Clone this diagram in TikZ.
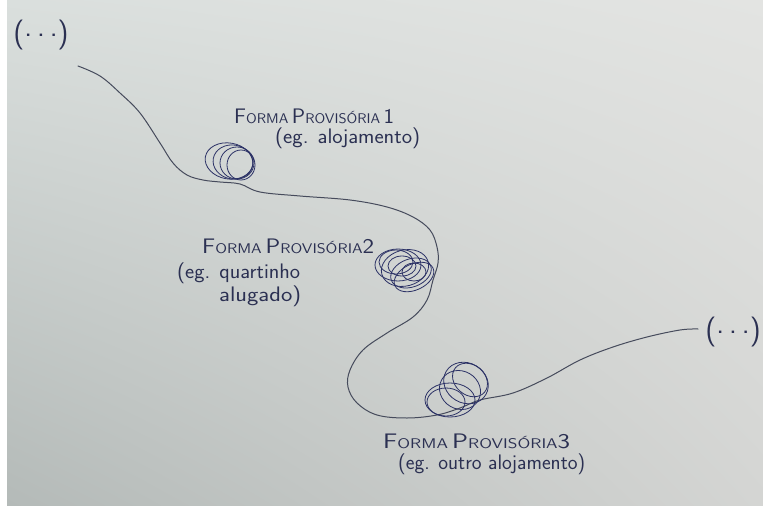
\documentclass[tikz,border=0pt]{standalone}
\usepackage{fontspec}
\usepackage{graphicx}
\usetikzlibrary{shadings}
\definecolor{inkc}{HTML}{2B3052}
\definecolor{loopink}{HTML}{2C3266}
\definecolor{linec}{HTML}{464B5C}
\definecolor{paperUL}{HTML}{DADFDD}
\definecolor{paperUR}{HTML}{E3E4E2}
\definecolor{paperLL}{HTML}{B4BAB8}
\definecolor{paperLR}{HTML}{D4D5D3}
\newcommand\fitw[2]{\resizebox{#1}{\height}{#2}}
\newcommand\bigc[1]{{\fontsize{21}{22}\selectfont #1}}
\newcommand\smc[1]{{\fontsize{14}{15}\selectfont #1}}
\newcommand\rdot{\raisebox{0.2em}{.}}
\begin{document}
\begin{tikzpicture}[x=1pt,y=-1pt,
  curve/.style={draw=linec, line width=1pt, line cap=round, line join=round},
  loopc/.style={draw=loopink, line width=0.8pt},
  txt/.style={text=inkc, font=\sffamily, inner sep=0pt, anchor=base west},
  lower/.style={txt, font=\sffamily\fontsize{21}{23}\selectfont},
  dots/.style={text=inkc, font=\sffamily\fontsize{30}{32}\selectfont, inner sep=0pt}]
\useasboundingbox (0,0) rectangle (763,511);
\fill[white] (0,0) rectangle (763,511);
\shade[upper left=paperUL, upper right=paperUR, lower left=paperLL, lower right=paperLR] (7,0) rectangle (763,505);

% the path
\draw[curve] plot[smooth, tension=0.6] coordinates {
  (78,66) (100,76) (120,93) (140,113) (160,143) (173,163) (187,175) (203,180)
  (220,182) (240,184) (260,192) (300,196) (350,200) (387,207) (413,217)
  (430,230) (437,247) (438,263) (433,280) (427,300) (413,317) (387,333)
  (363,350) (350,370) (348,387) (357,403) (377,415) (407,418) (437,415)
  (460,408) (480,400) (513,393) (547,378) (580,360) (613,347) (647,337)
  (680,330) (698,329)};

% loop 1
\draw[loopc, rotate around={-10:(229,161)}] (229,161) ellipse [x radius=24pt, y radius=18pt];
\draw[loopc, rotate around={-10:(233,162)}] (233,162) ellipse [x radius=20pt, y radius=17pt];
\draw[loopc] (237,163) ellipse [x radius=17pt, y radius=16pt];
\draw[loopc] (241,165) ellipse [x radius=14pt, y radius=15pt];

% loop 2
\draw[loopc] (398,265) ellipse [x radius=23pt, y radius=16pt];
\draw[loopc, rotate around={15:(405,268)}] (405,268) ellipse [x radius=24pt, y radius=18pt];
\draw[loopc, rotate around={20:(411,273)}] (411,273) ellipse [x radius=21pt, y radius=14pt];
\draw[loopc, rotate around={25:(414,277)}] (414,277) ellipse [x radius=21pt, y radius=13pt];
\draw[loopc] (402,266) ellipse [x radius=14pt, y radius=10pt];
\draw[loopc] (414,272) ellipse [x radius=12pt, y radius=9pt];
\draw[loopc] (396,262) ellipse [x radius=17pt, y radius=12pt];

% loop 3
\draw[loopc, rotate around={-30:(466,383)}] (466,383) ellipse [x radius=23pt, y radius=20pt];
\draw[loopc, rotate around={-30:(460,390)}] (460,390) ellipse [x radius=21pt, y radius=19pt];
\draw[loopc] (450,400) ellipse [x radius=25pt, y radius=17pt];
\draw[loopc] (446,402) ellipse [x radius=19pt, y radius=14pt];
\draw[loopc, rotate around={-40:(470,380)}] (470,380) ellipse [x radius=19pt, y radius=15pt];

% ellipsis marks
\node[dots] (startdots) at (41,35) {(\rdot\,\rdot\,\rdot)};
\node[dots] (enddots) at (733,332) {(\rdot\,\rdot\,\rdot)};

% labels
\node[txt] (f1) at (234,123) {\fitw{160pt}{\bigc{F}\smc{ORMA} \bigc{P}\smc{ROVISÓRIA} \bigc{1}}};
\node[lower] (e1) at (275,143) {\fitw{145pt}{(eg. alojamento)}};

\node[txt] (f2) at (202,253) {\fitw{172pt}{\bigc{F}\smc{ORMA} \bigc{P}\smc{ROVISÓRIA}\bigc{2}}};
\node[lower] (e2) at (177,278) {\fitw{123pt}{(eg. quartinho}};
\node[lower] (e2b) at (219,301) {\fitw{82pt}{alugado)}};

\node[txt] (f3) at (383,448) {\fitw{187pt}{\bigc{F}\smc{ORMA} \bigc{P}\smc{ROVISÓRIA}\bigc{3}}};
\node[lower] (e3) at (398,469) {\fitw{187pt}{(eg. outro alojamento)}};
\end{tikzpicture}
\end{document}
